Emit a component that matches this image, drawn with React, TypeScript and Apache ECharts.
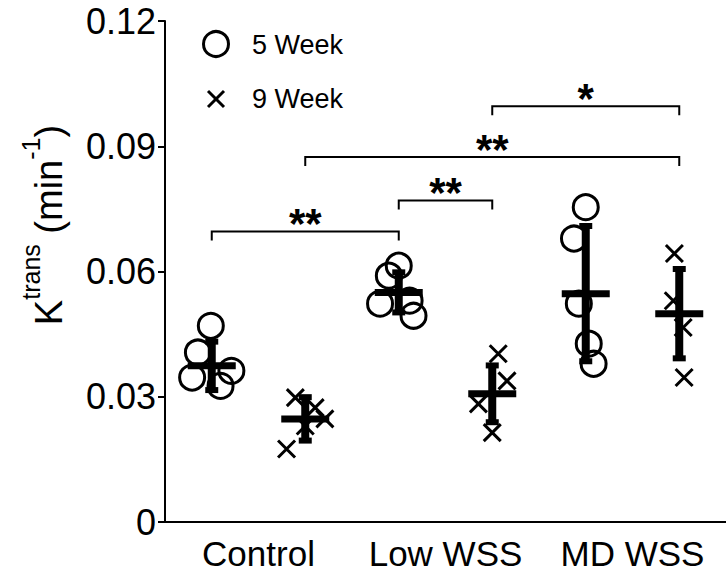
import React, { useEffect, useRef } from 'react';
import * as echarts from 'echarts';

const FONT = '"Liberation Sans", Arial, Helvetica, sans-serif';

const categories = ['Control', 'Low WSS', 'MD WSS'];
const yTickLabels = ['0', '0.03', '0.06', '0.09', '0.12'];
const groupOffset = 0.25;

// individual animals, 5 week (circles)
const week5Values = [
  [0.047, 0.0406, 0.0346, 0.0362, 0.0326],
  [0.0614, 0.059, 0.0523, 0.053, 0.0494],
  [0.0754, 0.0679, 0.0523, 0.0427, 0.0379],
];
const week5Jitter = [
  [-0.005, -0.074, -0.105, 0.105, 0.047],
  [0, -0.053, -0.1, 0.058, 0.079],
  [0, -0.063, -0.037, 0.016, 0.042],
];
// individual animals, 9 week (crosses)
const week9Values = [
  [0.0298, 0.0274, 0.0247, 0.023, 0.0175],
  [0.0403, 0.0338, 0.0283, 0.0214],
  [0.0643, 0.053, 0.0466, 0.0346],
];
const week9Jitter = [
  [-0.053, 0.053, 0.105, 0, -0.1],
  [0.032, 0.079, -0.074, 0],
  [-0.026, -0.032, 0.021, 0.026],
];

// mean and SD per group
const week5Mean = [0.0374, 0.055, 0.0547];
const week5Sd = [0.0058, 0.0048, 0.0162];
const week9Mean = [0.0247, 0.0307, 0.0499];
const week9Sd = [0.0052, 0.0068, 0.0107];

// significance brackets (group positions on the value x axis)
const bracketStart = [-0.25, 0.75, 0.25, 1.25];
const bracketEnd = [0.75, 1.25, 2.25, 2.25];
const bracketLevel = [0.0696, 0.077, 0.0874, 0.0996];
const bracketLabels = ['**', '**', '**', '*'];

export default function App() {
  const ref = useRef<HTMLDivElement>(null);

  useEffect(() => {
    const chart = echarts.init(ref.current!, null, { renderer: 'svg' });

    const w5Points = week5Values.flatMap((vals, i) =>
      vals.map((v, j) => [i - groupOffset + week5Jitter[i][j], v])
    );
    const w9Points = week9Values.flatMap((vals, i) =>
      vals.map((v, j) => [i + groupOffset + week9Jitter[i][j], v])
    );
    const summary = [
      ...week5Mean.map((m, i) => [i - groupOffset, m, week5Sd[i]]),
      ...week9Mean.map((m, i) => [i + groupOffset, m, week9Sd[i]]),
    ];
    const brackets = bracketStart.map((s, i) => [s, bracketEnd[i], bracketLevel[i]]);

    const axisLineStyle = { color: '#000', width: 2 };

    const option: any = {
      animation: false,
      backgroundColor: '#fff',
      grid: { left: 165, right: -9, top: 21, bottom: 53 },
      xAxis: [
        {
          type: 'category',
          data: categories,
          boundaryGap: true,
          axisLine: { onZero: false, lineStyle: axisLineStyle },
          axisTick: { alignWithLabel: true, interval: 0, length: 7, lineStyle: axisLineStyle },
          axisLabel: { color: '#000', fontSize: 35, fontFamily: FONT, margin: 14, interval: 0, hideOverlap: false },
          splitLine: { show: false },
        },
        { type: 'value', min: -0.5, max: 2.5, show: false },
      ],
      yAxis: {
        type: 'value',
        min: 0,
        max: 0.12,
        interval: 0.03,
        axisLine: { show: true, onZero: false, lineStyle: axisLineStyle },
        axisTick: { show: true, length: 7, lineStyle: axisLineStyle },
        axisLabel: {
          color: '#000',
          fontSize: 36,
          fontFamily: FONT,
          margin: 9,
          formatter: (v: number) => yTickLabels[Math.round(v / 0.03)] ?? '',
        },
        splitLine: { show: false },
      },
      graphic: [
        {
          type: 'text',
          x: 43,
          y: 225,
          rotation: Math.PI / 2,
          style: {
            text: '{k|K}{s|trans}{k| (min}{s|-1}{k|)}',
            align: 'center',
            verticalAlign: 'middle',
            fill: '#000',
            rich: {
              k: { fontSize: 38, fontFamily: FONT, lineHeight: 50, verticalAlign: 'bottom', fill: '#000' },
              s: { fontSize: 25, fontFamily: FONT, lineHeight: 13, verticalAlign: 'top', fill: '#000' },
            },
          },
        },
        {
          type: 'circle',
          shape: { cx: 216, cy: 44, r: 12.5 },
          style: { fill: 'none', stroke: '#000', lineWidth: 3 },
        },
        {
          type: 'text',
          x: 252,
          y: 45,
          style: { text: '5 Week', fontSize: 27, fontFamily: FONT, fill: '#000', verticalAlign: 'middle' },
        },
        {
          type: 'line',
          shape: { x1: 208, y1: 91, x2: 224, y2: 107 },
          style: { stroke: '#000', lineWidth: 3 },
        },
        {
          type: 'line',
          shape: { x1: 224, y1: 91, x2: 208, y2: 107 },
          style: { stroke: '#000', lineWidth: 3 },
        },
        {
          type: 'text',
          x: 252,
          y: 99,
          style: { text: '9 Week', fontSize: 27, fontFamily: FONT, fill: '#000', verticalAlign: 'middle' },
        },
      ],
      series: [
        {
          name: '5 Week',
          type: 'scatter',
          xAxisIndex: 1,
          data: w5Points,
          symbol: 'circle',
          symbolSize: 25,
          itemStyle: { color: 'rgba(0,0,0,0)', borderColor: '#000', borderWidth: 3, opacity: 1 },
          z: 2,
        },
        {
          name: '9 Week',
          type: 'scatter',
          xAxisIndex: 1,
          data: w9Points,
          symbol: 'path://M0,0L20,20M20,0L0,20',
          symbolSize: 17,
          itemStyle: { color: 'rgba(0,0,0,0)', borderColor: '#000', borderWidth: 3, opacity: 1 },
          z: 2,
        },
        {
          type: 'custom',
          xAxisIndex: 1,
          data: summary,
          encode: { x: 0, y: 1 },
          z: 3,
          renderItem: (params: any, api: any) => {
            const x = api.value(0);
            const m = api.value(1);
            const s = api.value(2);
            const top = api.coord([x, m + s]);
            const bot = api.coord([x, m - s]);
            const mid = api.coord([x, m]);
            const fill = { fill: '#000' };
            return {
              type: 'group',
              children: [
                { type: 'rect', shape: { x: mid[0] - 4, y: top[1], width: 8, height: bot[1] - top[1] }, style: fill },
                { type: 'rect', shape: { x: mid[0] - 6.5, y: top[1] - 3, width: 13, height: 6 }, style: fill },
                { type: 'rect', shape: { x: mid[0] - 6.5, y: bot[1] - 3, width: 13, height: 6 }, style: fill },
                { type: 'rect', shape: { x: mid[0] - 24, y: mid[1] - 3.5, width: 48, height: 7 }, style: fill },
              ],
            };
          },
        },
        {
          type: 'custom',
          xAxisIndex: 1,
          data: brackets,
          encode: { x: [0, 1], y: 2 },
          z: 3,
          renderItem: (params: any, api: any) => {
            const p1 = api.coord([api.value(0), api.value(2)]);
            const p2 = api.coord([api.value(1), api.value(2)]);
            const drop = 9;
            return {
              type: 'group',
              children: [
                {
                  type: 'polyline',
                  shape: {
                    points: [
                      [p1[0], p1[1] + drop],
                      [p1[0], p1[1]],
                      [p2[0], p2[1]],
                      [p2[0], p2[1] + drop],
                    ],
                  },
                  style: { stroke: '#000', lineWidth: 2, fill: 'none' },
                },
                {
                  type: 'text',
                  x: (p1[0] + p2[0]) / 2,
                  y: p1[1] - 8,
                  style: {
                    text: bracketLabels[params.dataIndex],
                    fontSize: 42,
                    fontWeight: 'bold',
                    fontFamily: FONT,
                    fill: '#000',
                    align: 'center',
                    verticalAlign: 'middle',
                  },
                },
              ],
            };
          },
        },
      ],
    };

    chart.setOption(option);
    return () => chart.dispose();
  }, []);

  return (
    <div
      ref={ref}
      style={{ position: 'fixed', left: 0, top: 0, width: 726, height: 575, background: '#fff' }}
    />
  );
}
